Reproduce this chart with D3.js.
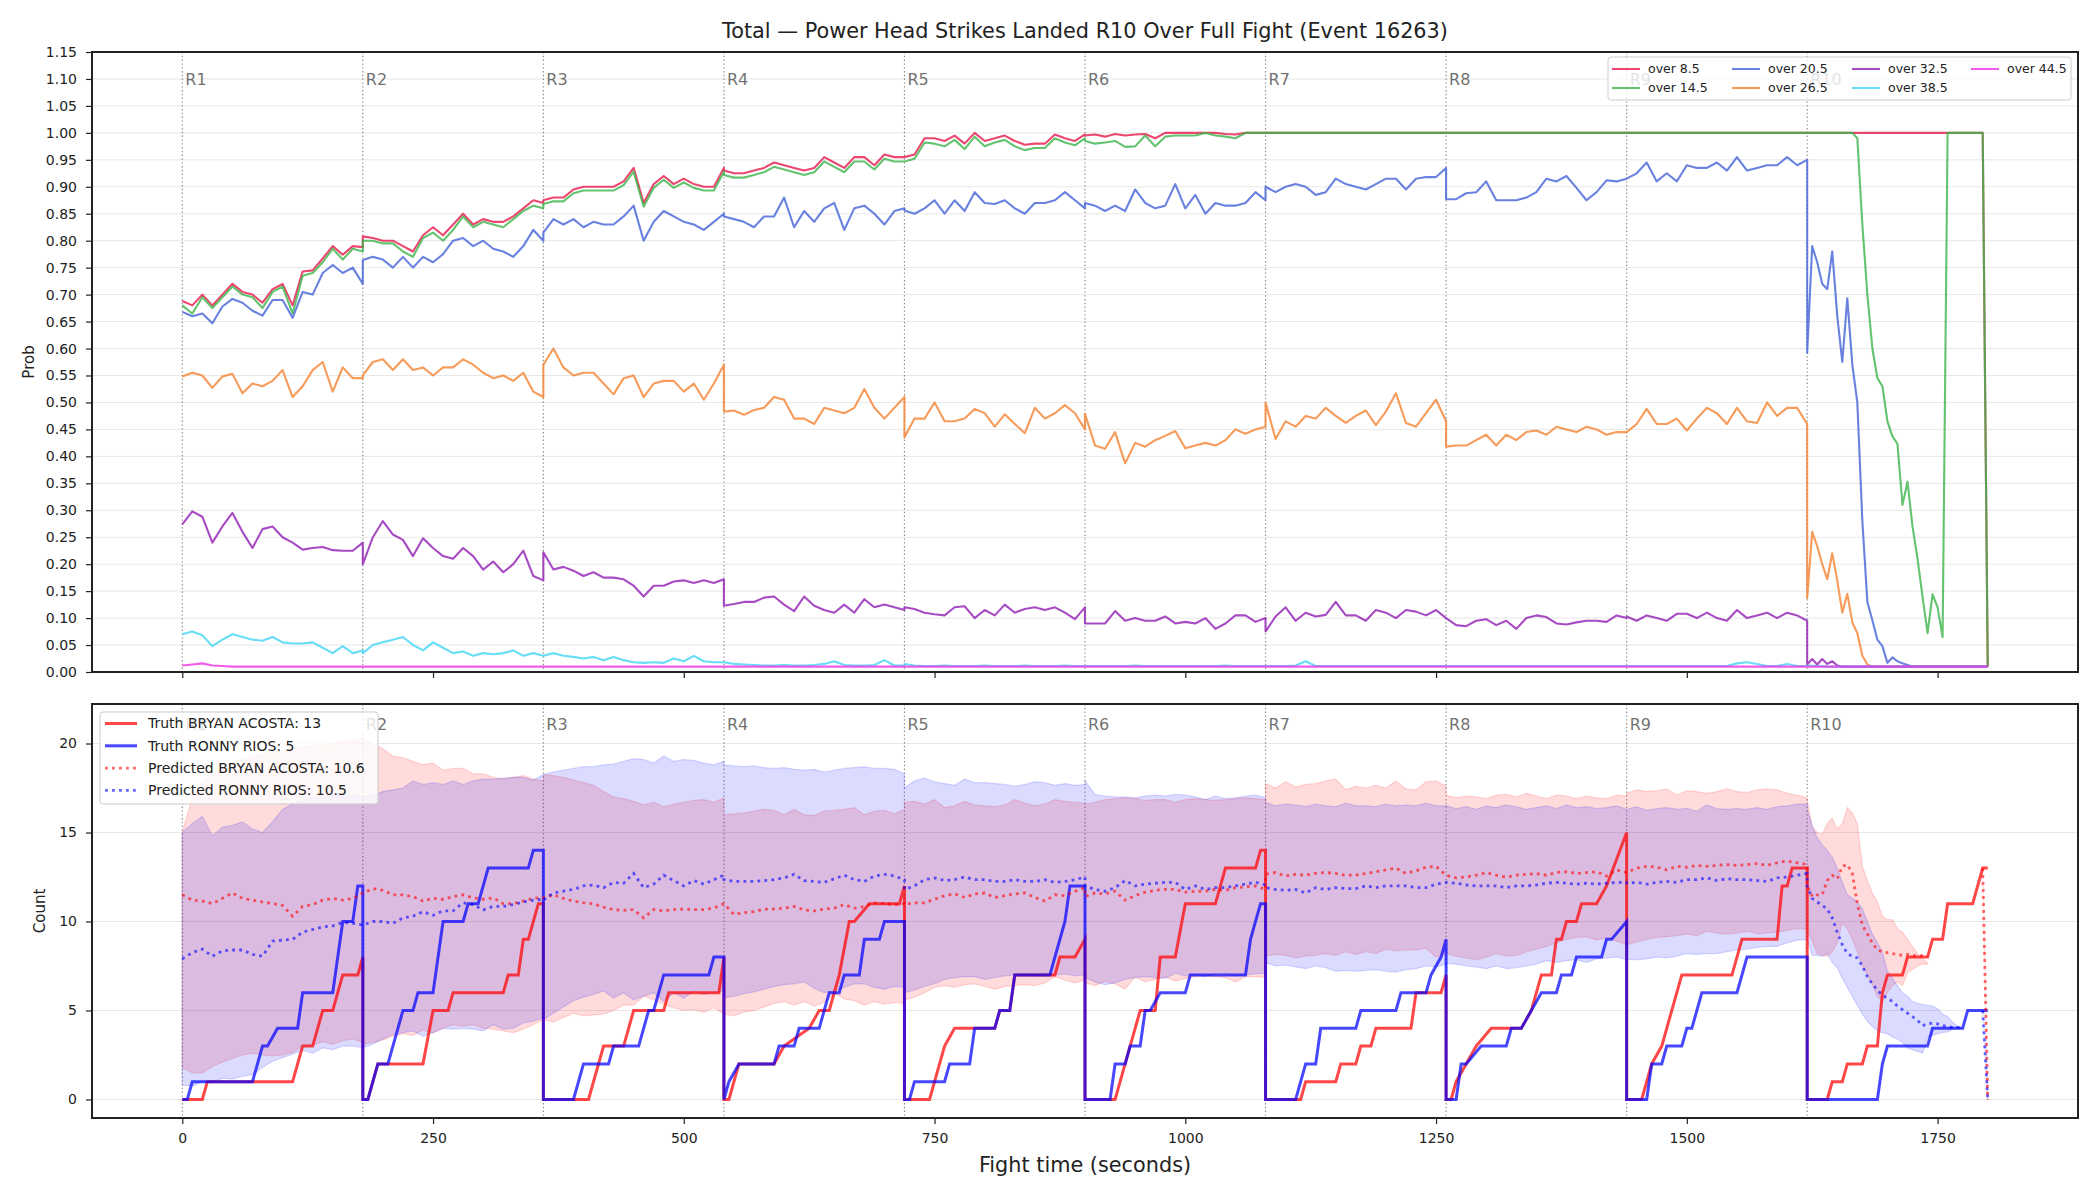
<!DOCTYPE html>
<html>
<head>
<meta charset="utf-8">
<script src="https://cdn.jsdelivr.net/npm/d3@7"></script>
<style>
  body { margin: 0; background: #fff; }
  text { font-family: "DejaVu Sans", sans-serif; }
</style>
</head>
<body>
<svg id="chart" width="2100" height="1200"></svg>
<script>
// ---- data ----
const ROUND_LEN = 180;
const roundStarts = [0, 180, 360, 540, 720, 900, 1080, 1260, 1440, 1620];
const roundLabels = ['R1', 'R2', 'R3', 'R4', 'R5', 'R6', 'R7', 'R8', 'R9', 'R10'];
const xTicks = [0, 250, 500, 750, 1000, 1250, 1500, 1750];
const probTicks = [0, 0.05, 0.1, 0.15, 0.2, 0.25, 0.3, 0.35, 0.4, 0.45, 0.5, 0.55, 0.6, 0.65, 0.7, 0.75, 0.8, 0.85, 0.9, 0.95, 1.0, 1.05, 1.1, 1.15];
const countTicks = [0, 5, 10, 15, 20];
const lineNames = ['over 8.5', 'over 14.5', 'over 20.5', 'over 26.5', 'over 32.5', 'over 38.5', 'over 44.5'];

// one array per round; round arrays are evenly spaced over the 180 s
const over85 = [
  [0.688,0.68,0.70,0.68,0.70,0.72,0.705,0.70,0.685,0.71,0.72,0.68,0.743,0.745,0.767,0.79,0.774,0.79,0.788],
  [0.808,0.805,0.80,0.80,0.79,0.78,0.81,0.825,0.81,0.83,0.85,0.83,0.84,0.835,0.835,0.845,0.86,0.875,0.87],
  [0.875,0.88,0.88,0.895,0.90,0.90,0.90,0.90,0.91,0.935,0.87,0.905,0.92,0.905,0.915,0.905,0.90,0.90,0.935],
  [0.93,0.925,0.925,0.93,0.935,0.945,0.94,0.935,0.93,0.935,0.955,0.945,0.935,0.955,0.955,0.94,0.96,0.955,0.955],
  [0.955,0.96,0.99,0.99,0.985,0.995,0.98,1.0,0.985,0.99,0.995,0.985,0.978,0.98,0.98,0.997,0.99,0.985,0.997],
  [0.995,0.997,0.993,0.998,0.995,0.997,0.998,0.99,1,1,1,1,1,1,0.998,0.997,1,1,1],
  [1,1,1,1,1,1,1,1,1,1,1,1,1,1,1,1,1,1,1],
  [1,1,1,1,1,1,1,1,1,1,1,1,1,1,1,1,1,1,1],
  [1,1,1,1,1,1,1,1,1,1,1,1,1,1,1,1,1,1,1],
  [1,1,1,1,1,1,1,1,1,1,1,1,1,1,1,1,1,1,1,1,1,1,1,1,1,1,1,1,1,1,1,1,1,1,1,1,0.01]
];
const over145 = [
  [0.68,0.665,0.695,0.675,0.695,0.715,0.70,0.695,0.675,0.705,0.715,0.665,0.735,0.74,0.76,0.785,0.765,0.785,0.78],
  [0.80,0.80,0.795,0.795,0.78,0.77,0.805,0.815,0.80,0.82,0.845,0.825,0.835,0.83,0.825,0.84,0.855,0.865,0.86],
  [0.868,0.873,0.873,0.888,0.893,0.893,0.893,0.893,0.903,0.928,0.863,0.898,0.913,0.898,0.908,0.898,0.893,0.893,0.928],
  [0.922,0.917,0.917,0.922,0.927,0.937,0.932,0.927,0.922,0.927,0.947,0.937,0.927,0.947,0.947,0.932,0.952,0.947,0.947],
  [0.947,0.952,0.982,0.98,0.975,0.987,0.97,0.993,0.975,0.982,0.987,0.975,0.968,0.972,0.972,0.99,0.982,0.977,0.99],
  [0.985,0.98,0.982,0.985,0.974,0.975,0.995,0.975,0.993,0.995,0.995,0.995,1,0.995,0.993,0.99,1,1,1],
  [1,1,1,1,1,1,1,1,1,1,1,1,1,1,1,1,1,1,1],
  [1,1,1,1,1,1,1,1,1,1,1,1,1,1,1,1,1,1,1],
  [1,1,1,1,1,1,1,1,1,1,1,1,1,1,1,1,1,1,1],
  [1,1,1,1,1,1,1,1,1,1,0.99,0.83,0.70,0.60,0.545,0.53,0.465,0.437,0.423,0.31,0.353,0.27,0.21,0.14,0.072,0.144,0.12,0.065,1,1,1,1,1,1,1,1,0.01]
];
const over205 = [
  [0.668,0.66,0.665,0.647,0.678,0.692,0.685,0.67,0.661,0.69,0.69,0.657,0.705,0.70,0.74,0.755,0.74,0.75,0.72],
  [0.764,0.77,0.765,0.75,0.77,0.75,0.77,0.76,0.775,0.80,0.805,0.79,0.80,0.785,0.78,0.77,0.79,0.82,0.80],
  [0.815,0.84,0.83,0.84,0.825,0.835,0.83,0.83,0.845,0.865,0.80,0.835,0.855,0.845,0.835,0.83,0.82,0.835,0.85],
  [0.845,0.84,0.835,0.825,0.845,0.845,0.88,0.825,0.855,0.835,0.86,0.87,0.82,0.86,0.865,0.85,0.83,0.855,0.86],
  [0.856,0.85,0.86,0.875,0.85,0.875,0.855,0.89,0.87,0.868,0.875,0.86,0.85,0.87,0.87,0.875,0.89,0.875,0.86],
  [0.87,0.865,0.855,0.865,0.855,0.895,0.87,0.86,0.865,0.905,0.86,0.885,0.85,0.87,0.865,0.865,0.87,0.89,0.875],
  [0.90,0.89,0.90,0.905,0.90,0.885,0.89,0.915,0.905,0.90,0.895,0.905,0.915,0.915,0.895,0.915,0.918,0.918,0.935],
  [0.877,0.877,0.888,0.89,0.91,0.875,0.875,0.875,0.88,0.89,0.915,0.91,0.92,0.898,0.875,0.89,0.912,0.91,0.915],
  [0.915,0.925,0.945,0.91,0.925,0.91,0.94,0.935,0.935,0.945,0.93,0.955,0.93,0.935,0.94,0.94,0.955,0.94,0.95],
  [0.592,0.79,0.76,0.72,0.71,0.78,0.66,0.575,0.693,0.57,0.50,0.28,0.13,0.096,0.06,0.048,0.017,0.027,0.02,0.016,0.013,0.01,0.01,0.01,0.01,0.01,0.01,0.01,0.01,0.01,0.01,0.01,0.01,0.01,0.01,0.01,0.01]
];
const over265 = [
  [0.548,0.555,0.55,0.527,0.548,0.553,0.517,0.535,0.53,0.54,0.56,0.51,0.53,0.56,0.575,0.52,0.565,0.545,0.545],
  [0.55,0.575,0.58,0.56,0.58,0.56,0.565,0.55,0.565,0.565,0.58,0.57,0.555,0.545,0.55,0.54,0.555,0.52,0.51],
  [0.57,0.60,0.565,0.55,0.555,0.555,0.535,0.515,0.545,0.55,0.51,0.535,0.54,0.54,0.52,0.535,0.505,0.535,0.57],
  [0.483,0.485,0.477,0.486,0.49,0.51,0.505,0.47,0.47,0.46,0.49,0.485,0.48,0.49,0.525,0.49,0.47,0.49,0.51],
  [0.435,0.47,0.47,0.50,0.465,0.465,0.47,0.488,0.48,0.455,0.478,0.46,0.443,0.49,0.47,0.48,0.495,0.48,0.45],
  [0.479,0.42,0.414,0.445,0.387,0.425,0.418,0.43,0.438,0.447,0.415,0.42,0.425,0.42,0.43,0.45,0.442,0.45,0.455],
  [0.50,0.432,0.465,0.455,0.475,0.47,0.49,0.475,0.462,0.475,0.485,0.458,0.483,0.517,0.462,0.455,0.48,0.505,0.465],
  [0.418,0.42,0.42,0.43,0.44,0.42,0.44,0.43,0.445,0.448,0.44,0.455,0.45,0.445,0.455,0.45,0.44,0.445,0.445],
  [0.445,0.46,0.488,0.46,0.46,0.47,0.448,0.47,0.49,0.48,0.46,0.49,0.465,0.462,0.5,0.475,0.49,0.49,0.46],
  [0.137,0.26,0.233,0.20,0.172,0.22,0.17,0.11,0.145,0.092,0.072,0.03,0.014,0.01,0.01,0.01,0.01,0.01,0.01,0.01,0.01,0.01,0.01,0.01,0.01,0.01,0.01,0.01,0.01,0.01,0.01,0.01,0.01,0.01,0.01,0.01,0.01]
];
const over325 = [
  [0.274,0.298,0.288,0.24,0.27,0.295,0.26,0.23,0.265,0.27,0.25,0.24,0.227,0.23,0.232,0.226,0.225,0.225,0.24],
  [0.20,0.25,0.28,0.255,0.245,0.215,0.248,0.23,0.215,0.21,0.23,0.215,0.19,0.205,0.185,0.20,0.225,0.178,0.17],
  [0.222,0.19,0.195,0.188,0.178,0.185,0.175,0.175,0.172,0.16,0.14,0.16,0.16,0.168,0.17,0.165,0.17,0.165,0.172],
  [0.123,0.126,0.13,0.13,0.138,0.14,0.125,0.113,0.14,0.123,0.115,0.11,0.125,0.11,0.135,0.12,0.125,0.12,0.115],
  [0.12,0.117,0.11,0.107,0.105,0.12,0.122,0.10,0.115,0.105,0.125,0.11,0.117,0.12,0.115,0.12,0.11,0.098,0.12],
  [0.09,0.09,0.09,0.113,0.095,0.10,0.095,0.095,0.103,0.09,0.093,0.09,0.10,0.08,0.09,0.105,0.105,0.093,0.10],
  [0.075,0.103,0.12,0.095,0.11,0.103,0.106,0.13,0.105,0.105,0.095,0.115,0.11,0.10,0.115,0.112,0.105,0.115,0.10],
  [0.10,0.087,0.085,0.095,0.098,0.087,0.095,0.08,0.10,0.105,0.102,0.09,0.088,0.092,0.095,0.095,0.093,0.105,0.10],
  [0.103,0.095,0.105,0.10,0.095,0.108,0.108,0.10,0.11,0.10,0.095,0.115,0.10,0.105,0.11,0.10,0.11,0.105,0.095],
  [0.014,0.024,0.014,0.024,0.015,0.02,0.012,0.01,0.01,0.01,0.01,0.01,0.01,0.01,0.01,0.01,0.01,0.01,0.01,0.01,0.01,0.01,0.01,0.01,0.01,0.01,0.01,0.01,0.01,0.01,0.01,0.01,0.01,0.01,0.01,0.01,0.01]
];
const over385 = [
  [0.07,0.075,0.068,0.048,0.06,0.07,0.065,0.06,0.058,0.065,0.055,0.053,0.053,0.055,0.045,0.035,0.048,0.035,0.04],
  [0.035,0.05,0.055,0.06,0.065,0.05,0.04,0.055,0.045,0.035,0.038,0.03,0.035,0.033,0.035,0.04,0.03,0.035,0.03],
  [0.03,0.035,0.03,0.028,0.025,0.028,0.022,0.028,0.022,0.018,0.017,0.018,0.017,0.025,0.02,0.03,0.02,0.018,0.018],
  [0.018,0.015,0.014,0.013,0.012,0.012,0.013,0.012,0.012,0.013,0.015,0.02,0.013,0.012,0.012,0.013,0.022,0.012,0.012],
  [0.015,0.012,0.011,0.011,0.012,0.011,0.011,0.011,0.012,0.011,0.011,0.011,0.012,0.011,0.011,0.011,0.012,0.011,0.011],
  [0.011,0.011,0.011,0.011,0.011,0.012,0.011,0.011,0.011,0.011,0.011,0.011,0.011,0.011,0.012,0.011,0.011,0.011,0.011],
  [0.011,0.011,0.011,0.012,0.02,0.011,0.011,0.011,0.011,0.011,0.011,0.011,0.011,0.011,0.011,0.011,0.011,0.011,0.011],
  [0.011,0.011,0.011,0.011,0.011,0.011,0.011,0.011,0.011,0.011,0.011,0.011,0.011,0.011,0.011,0.011,0.011,0.011,0.011],
  [0.011,0.011,0.011,0.011,0.011,0.011,0.011,0.011,0.011,0.011,0.011,0.016,0.018,0.015,0.011,0.011,0.015,0.011,0.011],
  [0.012,0.011,0.01,0.01,0.01,0.01,0.01,0.01,0.01,0.01,0.01,0.01,0.01,0.01,0.01,0.01,0.01,0.01,0.01]
];
const over445 = [
  [0.012,0.014,0.016,0.012,0.011,0.01,0.01,0.01,0.01,0.01,0.01,0.01,0.01,0.01,0.01,0.01,0.01,0.01,0.01],
  [0.01,0.01,0.01,0.01,0.01,0.01,0.01,0.01,0.01,0.01,0.01,0.01,0.01,0.01,0.01,0.01,0.01,0.01,0.01],
  [0.01,0.01,0.01,0.01,0.01,0.01,0.01,0.01,0.01,0.01,0.01,0.01,0.01,0.01,0.01,0.01,0.01,0.01,0.01],
  [0.01,0.01,0.01,0.01,0.01,0.01,0.01,0.01,0.01,0.01,0.01,0.01,0.01,0.01,0.01,0.01,0.01,0.01,0.01],
  [0.01,0.01,0.01,0.01,0.01,0.01,0.01,0.01,0.01,0.01,0.01,0.01,0.01,0.01,0.01,0.01,0.01,0.01,0.01],
  [0.01,0.01,0.01,0.01,0.01,0.01,0.01,0.01,0.01,0.01,0.01,0.01,0.01,0.01,0.01,0.01,0.01,0.01,0.01],
  [0.01,0.01,0.01,0.01,0.01,0.01,0.01,0.01,0.01,0.01,0.01,0.01,0.01,0.01,0.01,0.01,0.01,0.01,0.01],
  [0.01,0.01,0.01,0.01,0.01,0.01,0.01,0.01,0.01,0.01,0.01,0.01,0.01,0.01,0.01,0.01,0.01,0.01,0.01],
  [0.01,0.01,0.01,0.01,0.01,0.01,0.01,0.01,0.01,0.01,0.01,0.01,0.01,0.01,0.01,0.01,0.01,0.01,0.01],
  [0.01,0.01,0.01,0.01,0.01,0.01,0.01,0.01,0.01,0.01,0.01,0.01,0.01,0.01,0.01,0.01,0.01,0.01,0.01]
];

// truth counts: vertices [seconds, count]
const truthAcosta = [
  [0,0],[20,0],[25,1],[110,1],[120,3],[130,3],[140,5],[150,5],[160,7],[175,7],[180,8],
  [180,0],[185,0],[195,2],[240,2],[250,5],[265,5],[270,6],[320,6],[325,7],[335,7],[340,9],[345,9],[355,11],[360,11],
  [360,0],[405,0],[420,3],[440,3],[450,5],[480,5],[485,6],[535,6],[540,8],
  [540,0],[545,0],[555,2],[590,2],[600,3],[625,4],[635,5],[645,5],[655,7],[665,10],[670,10],[685,11],[715,11],[720,12],
  [720,0],[745,0],[755,2],[760,3],[770,4],[810,4],[815,5],[825,5],[830,7],[870,7],[875,8],[890,8],[900,9],
  [900,0],[930,0],[940,2],[950,4],[955,5],[970,5],[975,8],[990,8],[1000,11],[1030,11],[1040,13],[1070,13],[1075,14],[1080,14],
  [1080,0],[1115,0],[1120,1],[1150,1],[1155,2],[1170,2],[1175,3],[1185,3],[1190,4],[1225,4],[1230,6],[1255,6],[1260,7],
  [1260,0],[1265,0],[1270,1],[1280,2],[1290,3],[1305,4],[1335,4],[1345,5],[1355,7],[1365,7],[1370,9],[1375,9],[1380,10],[1390,10],[1395,11],[1410,11],[1420,12],[1440,15],
  [1440,0],[1455,0],[1465,2],[1475,3],[1495,7],[1545,7],[1550,8],[1555,9],[1590,9],[1595,12],[1600,12],[1605,13],[1620,13],
  [1620,0],[1640,0],[1645,1],[1655,1],[1660,2],[1675,2],[1680,3],[1690,3],[1695,6],[1700,7],[1715,7],[1720,8],[1740,8],[1745,9],[1755,9],[1760,11],[1785,11],[1795,13],[1800,13]
];
const truthRios = [
  [0,0],[5,0],[10,1],[70,1],[75,2],[80,3],[85,3],[95,4],[115,4],[120,6],[150,6],[160,10],[170,10],[175,12],[180,12],
  [180,0],[185,0],[195,2],[205,2],[210,3],[220,5],[230,5],[235,6],[250,6],[260,10],[280,10],[285,11],[295,11],[305,13],[345,13],[350,14],[360,14],
  [360,0],[390,0],[400,2],[425,2],[430,3],[455,3],[465,5],[470,5],[480,7],[525,7],[530,8],[540,8],
  [540,0],[545,1],[555,2],[590,2],[595,3],[610,3],[615,4],[635,4],[645,6],[655,6],[660,7],[675,7],[680,9],[695,9],[700,10],[720,10],
  [720,0],[725,0],[730,1],[760,1],[765,2],[785,2],[790,4],[810,4],[815,5],[825,5],[830,7],[865,7],[880,10],[885,12],[900,12],
  [900,0],[925,0],[930,2],[940,2],[945,3],[955,3],[960,5],[965,5],[975,6],[1000,6],[1005,7],[1060,7],[1065,9],[1075,11],[1080,11],
  [1080,0],[1110,0],[1120,2],[1130,2],[1135,4],[1170,4],[1175,5],[1210,5],[1215,6],[1240,6],[1245,7],[1255,8],[1260,9],
  [1260,0],[1270,0],[1275,2],[1280,2],[1295,3],[1320,3],[1325,4],[1335,4],[1345,5],[1355,6],[1370,6],[1375,7],[1385,7],[1390,8],[1415,8],[1420,9],[1425,9],[1440,10],
  [1440,0],[1460,0],[1465,2],[1475,2],[1480,3],[1495,3],[1500,4],[1505,4],[1515,6],[1550,6],[1555,7],[1560,8],[1620,8],
  [1620,0],[1690,0],[1695,2],[1700,3],[1740,3],[1745,4],[1775,4],[1780,5],[1800,5]
];

const predAcosta = [
  [11.5,11.2,11.15,11.0,11.3,11.6,11.3,11.2,11.1,11.0,10.9,10.3,10.85,10.95,11.2,11.3,11.2,11.3,11.6],
  [11.6,11.85,11.75,11.5,11.5,11.4,11.15,11.3,11.25,11.4,11.5,11.33,11.25,11.33,11.0,11.0,11.15,11.3,11.35],
  [11.33,11.5,11.3,11.15,11.05,11.0,10.8,10.67,10.62,10.67,10.2,10.67,10.6,10.67,10.7,10.67,10.67,10.75,11.0],
  [11.0,10.4,10.5,10.55,10.7,10.7,10.75,10.85,10.65,10.6,10.7,10.75,10.95,10.75,10.85,11.05,11.0,10.95,11.0],
  [10.95,11.05,11.05,11.25,11.45,11.55,11.35,11.55,11.6,11.35,11.45,11.55,11.6,11.35,11.15,11.5,11.45,11.7,11.9],
  [11.4,11.6,11.55,11.7,11.2,11.45,11.65,11.75,11.8,11.8,11.65,11.7,11.7,11.8,11.75,11.9,11.95,12.0,11.8],
  [12.65,12.75,12.55,12.65,12.6,12.7,12.75,12.7,12.6,12.6,12.7,12.8,12.9,13.0,12.7,12.85,13.05,13.1,12.6],
  [12.6,12.45,12.5,12.6,12.75,12.6,12.5,12.6,12.65,12.7,12.6,12.75,12.8,12.7,12.75,12.8,12.55,12.9,12.75],
  [12.75,13.0,13.1,13.05,12.9,13.1,13.05,13.15,13.1,13.15,13.2,13.15,13.2,13.25,13.15,13.3,13.4,13.3,13.2],
  [12.0,11.4,11.5,11.5,12.3,12.6,12.4,13.1,13.2,12.7,11.0,9.8,9.3,8.8,8.4,8.3,8.25,8.2,8.15,8.1,8.15,8.1,8.05,8.1,8.05,null,null,null,null,null,null,null,null,null,null,13,0]
];
const predRios = [
  [7.9,8.25,8.45,8.05,8.35,8.4,8.4,8.15,8.05,8.9,8.95,9.0,9.4,9.55,9.7,9.75,9.95,9.9,9.8],
  [9.8,10.0,10.0,9.9,10.2,10.3,10.55,10.35,10.6,10.6,11.05,10.95,10.65,10.85,10.85,10.95,11.1,11.2,11.25],
  [11.2,11.6,11.7,11.8,12.0,12.05,11.9,12.2,12.15,12.7,11.9,12.1,12.6,12.3,12.0,12.3,12.1,12.35,12.6],
  [12.35,12.25,12.25,12.25,12.3,12.35,12.45,12.65,12.3,12.25,12.2,12.4,12.6,12.35,12.25,12.55,12.65,12.55,12.35],
  [11.8,12.0,12.35,12.45,12.3,12.35,12.5,12.35,12.35,12.25,12.25,12.35,12.25,12.25,12.35,12.2,12.25,12.35,12.5],
  [12.0,11.8,11.7,11.9,12.3,12.0,12.1,12.15,12.2,12.2,11.8,12.0,11.8,11.9,11.9,12.0,12.1,12.2,12.05],
  [11.9,11.8,11.75,11.8,11.6,11.9,11.8,11.9,11.85,11.85,12.0,11.9,12.0,12.0,12.0,11.9,11.9,12.1,12.2],
  [12.2,12.15,12.05,12.0,12.0,12.0,11.9,12.0,12.0,12.05,12.15,12.2,12.15,12.1,12.15,12.1,12.15,12.2,12.2],
  [12.15,12.2,12.1,12.2,12.25,12.2,12.35,12.35,12.45,12.3,12.4,12.35,12.35,12.3,12.25,12.45,12.5,12.6,12.7],
  [12.0,11.3,11.1,10.9,10.7,10.2,9.4,8.7,8.2,8.05,7.95,7.5,6.9,6.5,6.15,5.85,5.7,5.5,5.25,5.05,4.85,4.65,4.45,4.15,4.25,4.3,4.25,4.15,4.1,4.05,4.05,4.0,null,null,null,5,0]
];

const bandHiAcosta = [
  [15.0,17.0,17.8,18.3,18.6,18.9,19.1,19.3,19.4,19.5,19.6,19.7,19.8,19.9,19.9,20.0,20.1,20.2,20.3],
  [20.3,20.0,19.7,19.3,19.2,19.0,18.8,18.9,18.5,18.6,18.6,18.3,18.3,18.1,18.0,18.1,18.2,18.0,17.9],
  [18.25,18.2,18.1,17.95,17.8,17.65,17.3,17.0,16.9,16.75,16.55,16.7,16.45,16.6,16.7,16.8,16.85,16.7,16.95],
  [16.0,16.05,16.1,16.2,16.3,16.25,16.0,16.3,16.0,15.95,16.2,16.25,16.3,16.4,16.0,16.2,16.25,16.05,16.3],
  [16.7,16.75,16.6,16.85,16.4,16.5,16.75,16.55,16.5,16.45,16.55,16.85,16.65,16.5,16.6,16.85,16.75,16.7,16.65],
  [16.6,16.7,16.85,16.9,16.95,16.9,16.8,16.85,16.85,16.7,16.85,16.9,16.85,16.8,16.85,16.9,16.95,16.9,16.85],
  [17.75,17.5,17.85,17.55,17.7,17.75,17.9,18.0,17.4,17.6,17.5,17.65,17.5,17.9,17.45,17.4,17.85,17.9,17.6],
  [17.1,16.95,17.05,17.0,16.9,17.1,17.15,17.0,17.2,17.05,16.9,17.1,17.05,16.9,17.05,16.95,16.9,17.1,17.05],
  [17.2,17.4,17.3,17.35,17.45,17.1,17.35,17.3,17.2,17.3,17.45,17.3,17.25,17.4,17.45,17.4,17.2,17.1,16.95],
  [16.85,15.3,15.0,14.9,15.5,15.8,15.2,15.5,16.4,16.1,15.5,13.1,12.3,11.6,11.1,10.3,10.1,10.1,9.6,9.4,9.0,8.6,8.2,7.9,7.7,null,null,null,null,null,null,null,null,null,null,13,0]
];
const bandLoAcosta = [
  [1.8,1.5,1.5,1.85,2.1,2.3,2.5,2.6,2.5,2.45,2.5,2.65,3.0,3.05,3.25,3.1,3.3,3.4,3.2],
  [3.1,3.2,3.35,3.55,3.7,3.6,3.9,3.75,4.0,4.2,4.1,4.2,4.0,3.95,3.85,3.75,3.95,4.2,4.5],
  [4.5,4.35,4.6,4.85,4.7,4.75,4.8,5.0,5.3,5.3,5.8,5.6,5.35,5.15,5.0,5.05,4.9,5.15,4.8],
  [4.8,4.7,4.9,5.0,5.2,5.4,5.5,5.3,5.5,5.25,5.45,5.95,5.65,5.55,5.3,5.5,5.35,5.45,5.4],
  [5.6,5.75,6.0,6.3,6.4,6.3,6.45,6.5,6.35,6.2,6.35,6.4,6.45,6.4,6.55,6.9,6.7,6.55,6.7],
  [6.55,6.4,6.65,6.5,6.2,6.9,6.6,6.75,6.9,6.65,6.8,6.9,6.95,6.9,6.85,6.6,6.9,6.9,6.85],
  [8.05,8.15,8.1,7.95,8.05,8.1,8.2,8.1,8.3,8.15,8.3,8.2,8.45,8.35,8.4,8.4,8.5,8.0,8.2],
  [8.2,8.05,7.95,7.85,8.0,8.2,8.05,8.1,8.3,8.45,8.6,8.8,9.0,9.1,9.15,8.95,9.1,8.9,8.7],
  [8.7,8.85,9.0,9.1,9.15,9.2,9.3,9.2,9.45,9.35,9.3,9.35,9.45,9.3,9.35,9.4,9.5,9.6,9.55],
  [9.5,8.9,8.2,8.1,8.05,8.3,8.8,9.9,9.6,9.0,8.3,7.5,7.0,6.4,5.8,5.5,6.0,6.4,6.6,6.4,7.1,7.3,7.5,7.6,7.6,null,null,null,null,null,null,null,null,null,null,13,0]
];
const bandHiRios = [
  [15.0,15.5,15.9,14.8,15.3,15.4,15.6,15.2,15.0,15.6,16.3,16.6,16.8,17.0,17.0,17.2,17.1,17.1,17.0],
  [17.0,17.1,17.3,17.4,17.5,17.9,17.7,17.8,17.7,17.9,17.7,17.9,18.0,18.0,18.05,18.1,18.1,17.95,18.25],
  [18.25,18.4,18.5,18.6,18.7,18.7,18.8,18.85,19.0,19.15,19.1,18.9,19.3,19.0,19.1,19.05,18.9,18.8,19.0],
  [18.8,18.75,18.7,18.75,18.65,18.6,18.65,18.55,18.5,18.55,18.4,18.5,18.6,18.65,18.7,18.6,18.6,18.55,18.3],
  [17.5,17.9,18.05,17.85,17.75,17.65,18.0,17.8,17.8,17.75,17.7,17.6,17.7,17.85,17.8,17.65,17.75,17.65,17.7],
  [17.9,17.15,17.05,17.0,17.0,16.95,17.05,17.1,17.05,17.15,17.1,17.0,16.85,17.05,16.9,16.95,17.05,17.1,16.95],
  [16.7,16.5,16.6,16.55,16.45,16.6,16.5,16.45,16.65,16.5,16.5,16.45,16.6,16.5,16.55,16.5,16.65,16.5,16.5],
  [16.5,16.35,16.45,16.3,16.5,16.4,16.55,16.45,16.3,16.4,16.5,16.35,16.55,16.4,16.45,16.35,16.4,16.5,16.3],
  [16.3,16.45,16.25,16.35,16.4,16.3,16.35,16.2,16.55,16.35,16.3,16.35,16.3,16.4,16.3,16.45,16.5,16.6,16.6],
  [16.3,15.4,14.7,14.3,14.0,13.6,13.0,12.2,11.5,11.3,11.1,10.7,10.0,9.3,8.8,8.3,7.2,6.8,6.4,6.0,5.8,5.5,5.4,5.35,5.3,5.25,5.1,4.8,4.65,4.35,4.1,4.0,null,null,null,5,0]
];
const bandLoRios = [
  [0.8,0.75,1.0,0.95,1.2,1.15,1.3,1.4,1.8,2.15,2.35,2.55,2.75,2.6,2.9,2.8,3.0,3.0,2.9],
  [2.9,3.1,3.4,3.65,3.75,3.85,3.55,3.75,4.0,3.95,4.0,3.95,3.85,4.2,3.95,4.0,4.3,4.4,4.6],
  [4.5,4.85,5.2,5.55,5.75,5.9,6.1,5.7,6.0,5.6,5.8,6.0,5.5,6.0,5.7,6.1,5.9,6.0,6.1],
  [5.7,5.8,5.95,6.05,6.2,6.35,6.45,6.5,6.6,6.25,6.0,6.1,6.3,6.5,6.5,6.3,6.2,6.35,6.3],
  [6.0,6.15,6.35,6.5,6.75,6.85,6.9,6.9,6.75,6.85,6.95,7.0,7.05,6.95,7.1,7.0,7.05,6.95,7.0],
  [6.85,6.6,6.45,6.55,6.75,6.85,6.9,6.85,6.8,7.1,6.95,7.0,6.9,7.05,7.1,6.95,7.0,7.05,7.1],
  [7.7,7.5,7.55,7.45,7.35,7.5,7.4,7.2,7.25,7.2,7.25,7.3,7.2,7.15,7.3,7.35,7.5,7.45,7.6],
  [7.65,7.6,7.5,7.45,7.35,7.5,7.35,7.4,7.5,7.6,7.8,7.7,7.8,7.85,7.7,7.9,7.95,8.0,7.85],
  [7.85,7.85,7.9,8.0,7.95,8.05,8.2,8.15,8.2,8.2,8.3,8.4,8.45,8.55,8.6,8.6,8.8,8.95,9.0],
  [9.0,8.1,8.1,8.05,8.2,7.7,7.4,6.8,6.3,5.8,5.3,4.8,4.4,4.1,3.85,3.75,3.7,3.5,3.4,3.2,2.9,2.8,2.7,2.6,3.5,3.6,3.7,3.75,3.8,3.95,4.0,4.0,null,null,null,5,0]
];

// ---- helpers ----
function expand(rounds) {
  const pts = [];
  rounds.forEach((vals, r) => {
    const step = ROUND_LEN / (vals.length - 1);
    vals.forEach((v, i) => pts.push({ t: roundStarts[r] + i * step, v: v }));
  });
  return pts;
}

function expandBand(lo, hi) {
  const a = expand(lo), b = expand(hi);
  return a.map((d, i) => ({ t: d.t, lo: d.v, hi: b[i].v }));
}

// ---- layout ----
const svg = d3.select('#chart');
const left = 92, right = 2078;
const topPanel = { y0: 52, y1: 672 };
const botPanel = { y0: 704, y1: 1118 };

const x = d3.scaleLinear().domain([-90, 1890]).range([left, right]);
const yProb = d3.scaleLinear().domain([0, 1.15]).range([topPanel.y1, topPanel.y0]);
const yCount = d3.scaleLinear().domain([-1.04, 22.22]).range([botPanel.y1, botPanel.y0]);

const topColors = ['#e6194b', '#3cb44b', '#4363d8', '#f58231', '#911eb4', '#42d4f4', '#f032e6'];
const topSeries = [over85, over145, over205, over265, over325, over385, over445];
const colA = '#ff0000', colB = '#0000ff';

svg.append('rect').attr('width', 2100).attr('height', 1200).attr('fill', '#fff');

// clip paths
const defs = svg.append('defs');
defs.append('clipPath').attr('id', 'clipTop').append('rect')
  .attr('x', left).attr('y', topPanel.y0).attr('width', right - left).attr('height', topPanel.y1 - topPanel.y0);
defs.append('clipPath').attr('id', 'clipBot').append('rect')
  .attr('x', left).attr('y', botPanel.y0).attr('width', right - left).attr('height', botPanel.y1 - botPanel.y0);

function drawGrid(g, ticks, y) {
  g.selectAll('.grid').data(ticks).enter().append('line')
    .attr('x1', left).attr('x2', right)
    .attr('y1', d => y(d)).attr('y2', d => y(d))
    .attr('stroke', '#b0b0b0').attr('stroke-opacity', 0.3).attr('stroke-width', 1);
}

function drawRounds(g, panel, labelY) {
  g.selectAll('.rline').data(roundStarts).enter().append('line')
    .attr('x1', d => x(d)).attr('x2', d => x(d))
    .attr('y1', panel.y0).attr('y2', panel.y1)
    .attr('stroke', '#555').attr('stroke-opacity', 0.7).attr('stroke-width', 1.1)
    .attr('stroke-dasharray', '1.4,2.4');
  g.selectAll('.rlabel').data(roundStarts).enter().append('text')
    .attr('x', d => x(d) + 3).attr('y', labelY).attr('dy', '0.35em')
    .attr('font-size', 16).attr('fill', '#555').attr('fill-opacity', 0.85)
    .text((d, i) => roundLabels[i]);
}

function styleAxis(g) {
  g.select('.domain').remove();
  g.selectAll('.tick line').attr('stroke', '#222').attr('stroke-width', 1.2);
  g.selectAll('.tick text').attr('font-size', 14).attr('fill', '#222')
    .attr('font-family', '"DejaVu Sans", sans-serif');
}

// ---- top panel ----
const gTop = svg.append('g');
drawGrid(gTop, probTicks, yProb);
drawRounds(gTop, topPanel, yProb(1.10));

const probLine = d3.line().defined(d => d.v != null).x(d => x(d.t)).y(d => yProb(d.v));
const gTopLines = gTop.append('g').attr('clip-path', 'url(#clipTop)');
topSeries.forEach((s, i) => {
  gTopLines.append('path').datum(expand(s))
    .attr('d', probLine).attr('fill', 'none')
    .attr('stroke', topColors[i]).attr('stroke-opacity', 0.8)
    .attr('stroke-width', 2.1).attr('stroke-linejoin', 'round');
});

const topYAxis = gTop.append('g').attr('transform', `translate(${left},0)`)
  .call(d3.axisLeft(yProb).tickValues(probTicks).tickFormat(d3.format('.2f')).tickSize(6).tickPadding(9));
styleAxis(topYAxis);
const topXAxis = gTop.append('g').attr('transform', `translate(0,${topPanel.y1})`)
  .call(d3.axisBottom(x).tickValues(xTicks).tickFormat('').tickSize(6));
styleAxis(topXAxis);

gTop.append('rect').attr('x', left).attr('y', topPanel.y0)
  .attr('width', right - left).attr('height', topPanel.y1 - topPanel.y0)
  .attr('fill', 'none').attr('stroke', '#222').attr('stroke-width', 2);

// top legend
const lgT = gTop.append('g');
lgT.append('rect').attr('x', 1608).attr('y', 57).attr('width', 463).attr('height', 43).attr('rx', 3)
  .attr('fill', '#fff').attr('fill-opacity', 0.8).attr('stroke', '#ccc').attr('stroke-width', 1);
const colX = [1612, 1732, 1852, 1971];
const rowY = [69, 88];
lineNames.forEach((name, i) => {
  const cx = colX[Math.floor(i / 2)], cy = rowY[i % 2];
  lgT.append('line').attr('x1', cx).attr('x2', cx + 28).attr('y1', cy).attr('y2', cy)
    .attr('stroke', topColors[i]).attr('stroke-opacity', 0.8).attr('stroke-width', 2.1);
  lgT.append('text').attr('x', cx + 36).attr('y', cy).attr('dy', '0.35em')
    .attr('font-size', 12.5).attr('fill', '#222').text(name);
});

// ---- bottom panel ----
const gBot = svg.append('g');
drawGrid(gBot, countTicks, yCount);
drawRounds(gBot, botPanel, 724);

const gBotMarks = gBot.append('g').attr('clip-path', 'url(#clipBot)');
const band = d3.area().defined(d => d.lo != null && d.hi != null)
  .x(d => x(d.t)).y0(d => yCount(d.lo)).y1(d => yCount(d.hi));
[[bandLoAcosta, bandHiAcosta, colA], [bandLoRios, bandHiRios, colB]].forEach(([lo, hi, c]) => {
  gBotMarks.append('path').datum(expandBand(lo, hi)).attr('d', band)
    .attr('fill', c).attr('fill-opacity', 0.14)
    .attr('stroke', c).attr('stroke-opacity', 0.14).attr('stroke-width', 1.2);
});

const truthLine = d3.line().x(d => x(d[0])).y(d => yCount(d[1]));
[[truthAcosta, colA], [truthRios, colB]].forEach(([data, c]) => {
  gBotMarks.append('path').datum(data).attr('d', truthLine).attr('fill', 'none')
    .attr('stroke', c).attr('stroke-opacity', 0.72).attr('stroke-width', 3);
});

const predLine = d3.line().defined(d => d.v != null).x(d => x(d.t)).y(d => yCount(d.v));
[[predAcosta, colA], [predRios, colB]].forEach(([data, c]) => {
  gBotMarks.append('path').datum(expand(data)).attr('d', predLine).attr('fill', 'none')
    .attr('stroke', c).attr('stroke-opacity', 0.6).attr('stroke-width', 2.8)
    .attr('stroke-dasharray', '2.8,4.2');
});

const botYAxis = gBot.append('g').attr('transform', `translate(${left},0)`)
  .call(d3.axisLeft(yCount).tickValues(countTicks).tickFormat(d3.format('d')).tickSize(6).tickPadding(9));
styleAxis(botYAxis);
const botXAxis = gBot.append('g').attr('transform', `translate(0,${botPanel.y1})`)
  .call(d3.axisBottom(x).tickValues(xTicks).tickFormat(d3.format('d')).tickSize(6).tickPadding(9));
styleAxis(botXAxis);

gBot.append('rect').attr('x', left).attr('y', botPanel.y0)
  .attr('width', right - left).attr('height', botPanel.y1 - botPanel.y0)
  .attr('fill', 'none').attr('stroke', '#222').attr('stroke-width', 2);

// bottom legend
const legendRows = [
  { label: 'Truth BRYAN ACOSTA: 13', color: colA, dash: null },
  { label: 'Truth RONNY RIOS: 5', color: colB, dash: null },
  { label: 'Predicted BRYAN ACOSTA: 10.6', color: colA, dash: '2.8,4.2' },
  { label: 'Predicted RONNY RIOS: 10.5', color: colB, dash: '2.8,4.2' }
];
const lgB = gBot.append('g');
lgB.append('rect').attr('x', 100).attr('y', 712).attr('width', 278).attr('height', 92).attr('rx', 3)
  .attr('fill', '#fff').attr('fill-opacity', 0.8).attr('stroke', '#ccc').attr('stroke-width', 1);
legendRows.forEach((r, i) => {
  const cy = 723.5 + i * 22.3;
  lgB.append('line').attr('x1', 105).attr('x2', 137).attr('y1', cy).attr('y2', cy)
    .attr('stroke', r.color).attr('stroke-opacity', r.dash ? 0.6 : 0.72)
    .attr('stroke-width', r.dash ? 2.8 : 3)
    .attr('stroke-dasharray', r.dash);
  lgB.append('text').attr('x', 148).attr('y', cy).attr('dy', '0.35em')
    .attr('font-size', 14).attr('fill', '#222').text(r.label);
});

// ---- titles ----
svg.append('text').attr('x', (left + right) / 2).attr('y', 31).attr('dy', '0.35em')
  .attr('text-anchor', 'middle').attr('font-size', 20.8).attr('fill', '#222')
  .text('Total — Power Head Strikes Landed R10 Over Full Fight (Event 16263)');
svg.append('text').attr('x', (left + right) / 2).attr('y', 1165).attr('dy', '0.35em')
  .attr('text-anchor', 'middle').attr('font-size', 20.8).attr('fill', '#222')
  .text('Fight time (seconds)');
svg.append('text').attr('transform', `translate(29,${(topPanel.y0 + topPanel.y1) / 2}) rotate(-90)`)
  .attr('text-anchor', 'middle').attr('dy', '0.35em').attr('font-size', 15).attr('fill', '#222').text('Prob');
svg.append('text').attr('transform', `translate(40,${(botPanel.y0 + botPanel.y1) / 2}) rotate(-90)`)
  .attr('text-anchor', 'middle').attr('dy', '0.35em').attr('font-size', 15).attr('fill', '#222').text('Count');
</script>
</body>
</html>
